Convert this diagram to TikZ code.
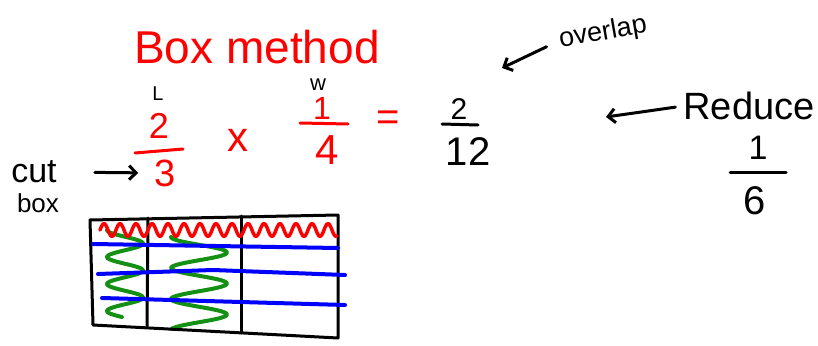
\documentclass[tikz,border=0pt]{standalone}
\usepackage{fontspec}
\setmainfont{Liberation Sans}
\usetikzlibrary{positioning, arrows.meta, calc}

\definecolor{penred}{RGB}{255,0,0}
\definecolor{pengreen}{RGB}{20,145,20}
\definecolor{penblue}{RGB}{0,0,255}

\tikzset{
  ink/.style={line width=3pt, line cap=round, line join=round},
  arr/.style={ink, -{Straight Barb[length=7pt, width=14pt]}},
  txt/.style={inner sep=0pt},
  marker/.style={line width=4pt, line cap=round, line join=round},
}

\begin{document}
\begin{tikzpicture}[x=1pt, y=-1pt]
  \useasboundingbox (0,0) rectangle (818,345);

  % Title and labels
  \node[txt, penred, font=\fontsize{46}{50}\selectfont] (title) at (257,47) {Box method};
  \node[txt, font=\fontsize{20}{22}\selectfont] (lenL) at (158,94) {L};
  \node[txt, font=\fontsize{22}{24}\selectfont] (widW) at (318,85) {w};

  % 2/3 x 1/4 = 2/12
  \node[txt, penred, font=\fontsize{36}{40}\selectfont] (top23) at (159,126) {2};
  \node[txt, penred, font=\fontsize{38}{40}\selectfont] (bot23) at (165,173) {3};
  \draw[ink, penred] (135,153) -- (183,149);
  \node[txt, penred, font=\fontsize{42}{44}\selectfont] (times) at (238,140) {x};
  \node[txt, penred, font=\fontsize{32}{36}\selectfont] (top14) at (322,108) {1};
  \node[txt, penred, font=\fontsize{42}{44}\selectfont] (bot14) at (327,150) {4};
  \draw[ink, penred] (300,123) -- (348,124);
  \node[txt, penred, font=\fontsize{40}{44}\selectfont] (equals) at (388,121) {=};
  \node[txt, font=\fontsize{30}{32}\selectfont] (top212) at (459,109) {2};
  \node[txt, font=\fontsize{40}{44}\selectfont] (bot212) at (468,152) {12};
  \draw[ink] (442,124) -- (478,125);

  % overlap note
  \node[txt, rotate=10, font=\fontsize{27}{30}\selectfont] (overlap) at (603,33) {overlap};
  \coordinate (oltip) at (502,68);
  \draw[arr, shorten <=14pt] (overlap.west) -- (oltip);

  % Reduce
  \node[txt, font=\fontsize{38}{40}\selectfont] (reduce) at (749,106) {Reduce};
  \coordinate (redtip) at (606,117);
  \draw[arr, shorten <=8pt] (reduce.west) -- (redtip);
  \node[txt, font=\fontsize{34}{38}\selectfont] (top16) at (758,148) {1};
  \node[txt, font=\fontsize{40}{44}\selectfont] (bot16) at (755,201) {6};
  \draw[ink] (730,172) -- (786,172);

  % cut box
  \node[txt, font=\fontsize{34}{36}\selectfont] (cut) at (34,172) {cut};
  \node[txt, font=\fontsize{26}{28}\selectfont] (box) at (38,203) {box};
  \draw[arr, shorten <=38pt, shorten >=16pt] (cut.east) -- (bot23.west);

  % the box
  \draw[marker, pengreen] plot[domain=230:317, samples=90, smooth]
    ({125-18*cos((\x-230)*13.333)}, \x);
  \draw[marker, pengreen] plot[domain=237:329, samples=90, smooth]
    ({199-28*cos((\x-237)*11.613)}, \x);
  \draw[ink] (90,220) -- (338,215) -- (338,338) -- (93,325) -- cycle;
  \draw[ink] (148,218) -- (147,326);
  \draw[ink] (241,216) -- (241,333);
  \draw[marker, penblue] (93,244) -- (338,248);
  \draw[marker, penblue] (98,274) -- (213,270) -- (345,275);
  \draw[marker, penblue] (102,298) -- (345,305);
  \draw[marker, line width=3.5pt, penred] plot[domain=100:337, samples=160, smooth]
    (\x, {230-6.5*sin((\x-100)*22.5)});
\end{tikzpicture}
\end{document}
